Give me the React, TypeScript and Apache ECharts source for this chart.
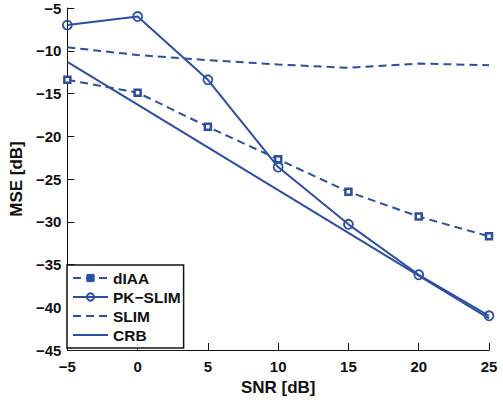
import React, { useEffect, useRef } from "react";
import * as echarts from "echarts";

const snr = [-5, 0, 5, 10, 15, 20, 25];
const diaa = [-13.4, -14.9, -18.9, -22.7, -26.5, -29.4, -31.7];
const pkslim = [-7.0, -6.0, -13.4, -23.6, -30.3, -36.2, -41.0];
const slim = [-9.6, -10.5, -11.1, -11.6, -12.0, -11.5, -11.7];
const crb = [-11.3, -16.3, -21.3, -26.3, -31.3, -36.3, -41.3];
const seriesNames = ["dIAA", "PK\u2212SLIM", "SLIM", "CRB"];

const BLUE = "#2C4FA3";
const INK = "#111";
const FONT = "Liberation Sans, Arial, sans-serif";

const pairs = (ys: number[]) => snr.map((x, i) => [x, ys[i]]);
const minus = (v: number) => (v < 0 ? "\u2212" + Math.abs(v) : String(v));
const hidden = { color: "rgba(0,0,0,0)", borderColor: "rgba(0,0,0,0)", borderWidth: 0, opacity: 0 };

export default function App() {
  const ref = useRef<HTMLDivElement>(null);
  useEffect(() => {
    if (!ref.current) return;
    const chart = echarts.init(ref.current, undefined, { renderer: "svg" });
    const axisCommon = {
      type: "value",
      interval: 5,
      nameLocation: "middle",
      nameTextStyle: { fontFamily: FONT, fontWeight: "bold", fontSize: 17, color: INK },
      axisLine: { show: true, onZero: false, lineStyle: { color: INK, width: 1 } },
      axisTick: { show: true, inside: true, length: 7, lineStyle: { color: INK } },
      splitLine: { show: false },
    };
    const labelCommon = {
      formatter: minus,
      fontFamily: FONT,
      fontWeight: "bold",
      fontSize: 15,
      color: INK,
      showMinLabel: true,
      showMaxLabel: true,
    };
    chart.setOption({
      animation: false,
      backgroundColor: "#fff",
      grid: { left: 62, right: 14, top: 8, bottom: 53 },
      xAxis: {
        ...axisCommon,
        min: -5,
        max: 25,
        name: "SNR [dB]",
        nameGap: 25,
        axisLabel: { ...labelCommon, margin: 9 },
      },
      yAxis: {
        ...axisCommon,
        min: -45,
        max: -5,
        name: "MSE [dB]",
        nameGap: 30,
        axisLabel: { ...labelCommon, margin: 6 },
      },
      legend: {
        left: 67,
        top: 265,
        orient: "vertical",
        backgroundColor: "#fff",
        borderColor: INK,
        borderWidth: 1.5,
        borderRadius: 0,
        padding: [5, 3, 5, 5],
        itemGap: 3,
        itemWidth: 35,
        itemHeight: 9,
        textStyle: { fontFamily: FONT, fontWeight: "bold", fontSize: 15.5, color: INK },
        data: [
          { name: seriesNames[0], itemStyle: { color: BLUE, borderColor: BLUE, borderWidth: 1 } },
          { name: seriesNames[1] },
          { name: seriesNames[2], itemStyle: hidden },
          { name: seriesNames[3], itemStyle: hidden },
        ],
      },
      series: [
        {
          name: seriesNames[0],
          type: "line",
          data: pairs(diaa),
          symbol: "rect",
          symbolSize: 6,
          lineStyle: { color: BLUE, width: 2, type: [8, 5] },
          itemStyle: { color: "#fff", borderColor: BLUE, borderWidth: 2.5 },
        },
        {
          name: seriesNames[1],
          type: "line",
          data: pairs(pkslim),
          symbol: "circle",
          symbolSize: 9,
          lineStyle: { color: BLUE, width: 2 },
          itemStyle: { color: "rgba(255,255,255,0)", borderColor: BLUE, borderWidth: 1.8 },
        },
        {
          name: seriesNames[2],
          type: "line",
          data: pairs(slim),
          symbol: "none",
          lineStyle: { color: BLUE, width: 2, type: [8, 5] },
          itemStyle: hidden,
        },
        {
          name: seriesNames[3],
          type: "line",
          data: pairs(crb),
          symbol: "none",
          lineStyle: { color: BLUE, width: 2 },
          itemStyle: hidden,
        },
      ],
    });
    return () => chart.dispose();
  }, []);
  return <div ref={ref} style={{ width: 503, height: 403, position: "absolute", left: 0, top: 0 }} />;
}
